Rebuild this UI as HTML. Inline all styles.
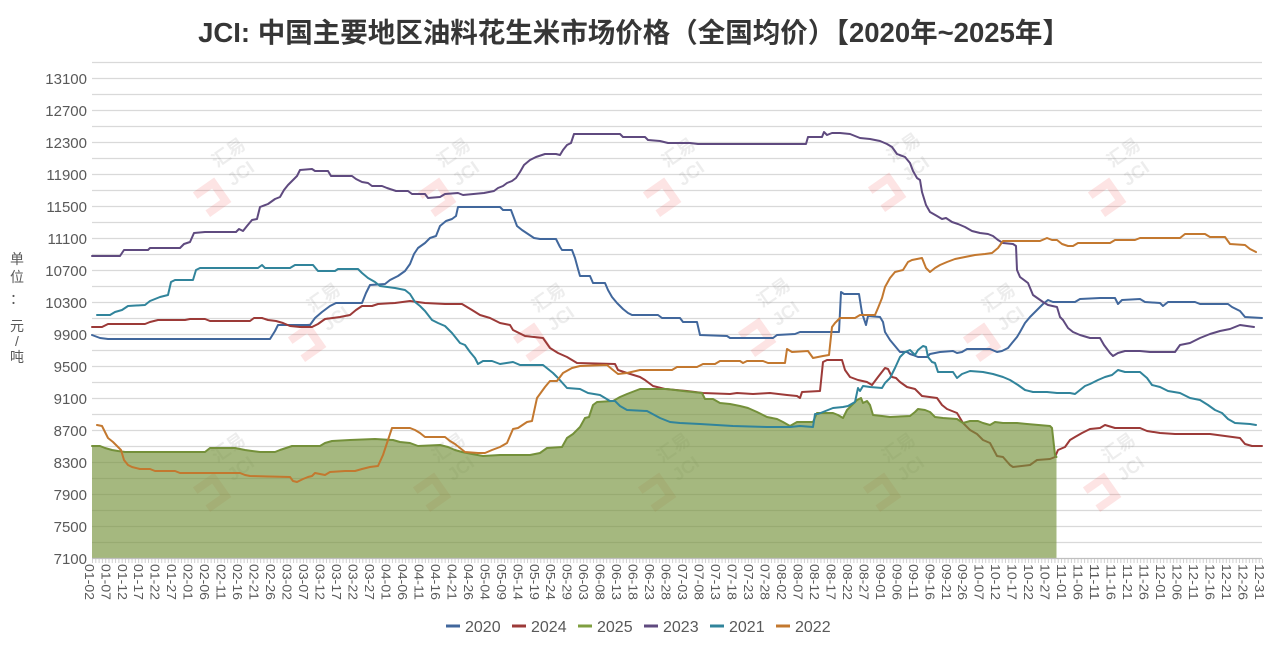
<!DOCTYPE html>
<html><head><meta charset="utf-8"><style>
html,body{margin:0;padding:0;background:#fff;}
svg{display:block;}
</style></head><body>
<svg width="1276" height="651" viewBox="0 0 1276 651" xmlns="http://www.w3.org/2000/svg">
<rect width="1276" height="651" fill="#fff"/>
<text x="634" y="42" text-anchor="middle" font-family="'Liberation Sans','Noto Sans CJK SC',sans-serif" font-size="27.5" font-weight="bold" fill="#363636">JCI: 中国主要地区油料花生米市场价格（全国均价）【2020年~2025年】</text>
<g stroke="#d9d9d9" stroke-width="1.2">
<line x1="92" y1="62.5" x2="1262" y2="62.5"/><line x1="92" y1="78.5" x2="1262" y2="78.5"/><line x1="92" y1="94.5" x2="1262" y2="94.5"/><line x1="92" y1="110.5" x2="1262" y2="110.5"/><line x1="92" y1="126.5" x2="1262" y2="126.5"/><line x1="92" y1="142.5" x2="1262" y2="142.5"/><line x1="92" y1="158.5" x2="1262" y2="158.5"/><line x1="92" y1="174.5" x2="1262" y2="174.5"/><line x1="92" y1="190.5" x2="1262" y2="190.5"/><line x1="92" y1="206.5" x2="1262" y2="206.5"/><line x1="92" y1="222.5" x2="1262" y2="222.5"/><line x1="92" y1="238.5" x2="1262" y2="238.5"/><line x1="92" y1="254.5" x2="1262" y2="254.5"/><line x1="92" y1="270.5" x2="1262" y2="270.5"/><line x1="92" y1="286.5" x2="1262" y2="286.5"/><line x1="92" y1="302.5" x2="1262" y2="302.5"/><line x1="92" y1="318.5" x2="1262" y2="318.5"/><line x1="92" y1="334.5" x2="1262" y2="334.5"/><line x1="92" y1="350.5" x2="1262" y2="350.5"/><line x1="92" y1="366.5" x2="1262" y2="366.5"/><line x1="92" y1="382.5" x2="1262" y2="382.5"/><line x1="92" y1="398.5" x2="1262" y2="398.5"/><line x1="92" y1="414.5" x2="1262" y2="414.5"/><line x1="92" y1="430.5" x2="1262" y2="430.5"/><line x1="92" y1="446.5" x2="1262" y2="446.5"/><line x1="92" y1="462.5" x2="1262" y2="462.5"/><line x1="92" y1="478.5" x2="1262" y2="478.5"/><line x1="92" y1="494.5" x2="1262" y2="494.5"/><line x1="92" y1="510.5" x2="1262" y2="510.5"/><line x1="92" y1="526.5" x2="1262" y2="526.5"/><line x1="92" y1="542.5" x2="1262" y2="542.5"/>
</g>
<!-- watermarks -->
<g opacity="0.13" font-family="'Liberation Sans','Noto Sans CJK SC',sans-serif" font-weight="bold">
<g transform="translate(225,165) rotate(-35)"><path d="M-42 8 h22 v22 h-22" fill="none" stroke="#e33" stroke-width="8"/><text x="-8" y="-2" font-size="18" fill="#777">汇易</text><text x="-6" y="22" font-size="18" fill="#777">JCI</text></g>
<g transform="translate(450,165) rotate(-35)"><path d="M-42 8 h22 v22 h-22" fill="none" stroke="#e33" stroke-width="8"/><text x="-8" y="-2" font-size="18" fill="#777">汇易</text><text x="-6" y="22" font-size="18" fill="#777">JCI</text></g>
<g transform="translate(675,165) rotate(-35)"><path d="M-42 8 h22 v22 h-22" fill="none" stroke="#e33" stroke-width="8"/><text x="-8" y="-2" font-size="18" fill="#777">汇易</text><text x="-6" y="22" font-size="18" fill="#777">JCI</text></g>
<g transform="translate(900,160) rotate(-35)"><path d="M-42 8 h22 v22 h-22" fill="none" stroke="#e33" stroke-width="8"/><text x="-8" y="-2" font-size="18" fill="#777">汇易</text><text x="-6" y="22" font-size="18" fill="#777">JCI</text></g>
<g transform="translate(1120,165) rotate(-35)"><path d="M-42 8 h22 v22 h-22" fill="none" stroke="#e33" stroke-width="8"/><text x="-8" y="-2" font-size="18" fill="#777">汇易</text><text x="-6" y="22" font-size="18" fill="#777">JCI</text></g>
<g transform="translate(320,310) rotate(-35)"><path d="M-42 8 h22 v22 h-22" fill="none" stroke="#e33" stroke-width="8"/><text x="-8" y="-2" font-size="18" fill="#777">汇易</text><text x="-6" y="22" font-size="18" fill="#777">JCI</text></g>
<g transform="translate(545,310) rotate(-35)"><path d="M-42 8 h22 v22 h-22" fill="none" stroke="#e33" stroke-width="8"/><text x="-8" y="-2" font-size="18" fill="#777">汇易</text><text x="-6" y="22" font-size="18" fill="#777">JCI</text></g>
<g transform="translate(770,305) rotate(-35)"><path d="M-42 8 h22 v22 h-22" fill="none" stroke="#e33" stroke-width="8"/><text x="-8" y="-2" font-size="18" fill="#777">汇易</text><text x="-6" y="22" font-size="18" fill="#777">JCI</text></g>
<g transform="translate(995,310) rotate(-35)"><path d="M-42 8 h22 v22 h-22" fill="none" stroke="#e33" stroke-width="8"/><text x="-8" y="-2" font-size="18" fill="#777">汇易</text><text x="-6" y="22" font-size="18" fill="#777">JCI</text></g>
<g transform="translate(225,460) rotate(-35)"><path d="M-42 8 h22 v22 h-22" fill="none" stroke="#e33" stroke-width="8"/><text x="-8" y="-2" font-size="18" fill="#777">汇易</text><text x="-6" y="22" font-size="18" fill="#777">JCI</text></g>
<g transform="translate(445,460) rotate(-35)"><path d="M-42 8 h22 v22 h-22" fill="none" stroke="#e33" stroke-width="8"/><text x="-8" y="-2" font-size="18" fill="#777">汇易</text><text x="-6" y="22" font-size="18" fill="#777">JCI</text></g>
<g transform="translate(670,460) rotate(-35)"><path d="M-42 8 h22 v22 h-22" fill="none" stroke="#e33" stroke-width="8"/><text x="-8" y="-2" font-size="18" fill="#777">汇易</text><text x="-6" y="22" font-size="18" fill="#777">JCI</text></g>
<g transform="translate(895,460) rotate(-35)"><path d="M-42 8 h22 v22 h-22" fill="none" stroke="#e33" stroke-width="8"/><text x="-8" y="-2" font-size="18" fill="#777">汇易</text><text x="-6" y="22" font-size="18" fill="#777">JCI</text></g>
<g transform="translate(1115,460) rotate(-35)"><path d="M-42 8 h22 v22 h-22" fill="none" stroke="#e33" stroke-width="8"/><text x="-8" y="-2" font-size="18" fill="#777">汇易</text><text x="-6" y="22" font-size="18" fill="#777">JCI</text></g>
</g>
<!-- y labels -->
<g font-family="'Liberation Sans',sans-serif" font-size="15" fill="#595959" text-anchor="end">
<text x="87" y="84">13100</text><text x="87" y="116">12700</text><text x="87" y="148">12300</text><text x="87" y="180">11900</text><text x="87" y="212">11500</text><text x="87" y="244">11100</text><text x="87" y="276">10700</text><text x="87" y="308">10300</text><text x="87" y="340">9900</text><text x="87" y="372">9500</text><text x="87" y="404">9100</text><text x="87" y="436">8700</text><text x="87" y="468">8300</text><text x="87" y="500">7900</text><text x="87" y="532">7500</text><text x="87" y="564">7100</text>
</g>
<g font-family="'Liberation Sans','Noto Sans CJK SC',sans-serif" font-size="14" fill="#595959" text-anchor="middle">
<text x="17" y="264">单</text><text x="17" y="282">位</text><text x="17" y="304">：</text><text x="17" y="331">元</text><text x="17" y="346">/</text><text x="17" y="362">吨</text>
</g>
<g fill="none" stroke-width="2" stroke-linejoin="round" stroke-linecap="round">
<polyline stroke="#41679c" points="92,335 100,338 108,339 270,339 275,331 278,325 310,325 315,318 322,312 330,306 336,303 362,303 366,293 370,285 385,284 390,280 398,276 405,271 410,264 414,254 418,248 425,243 430,238 436,236 440,226 446,221 452,219 456,216 458,207 500,207 503,210 511,210 514,218 517,226 522,230 528,234 534,238 540,239 556,239 560,247 562,250 572,250 575,258 578,269 580,276 590,276 593,283 605,283 608,290 612,297 617,303 623,309 628,313 632,315 658,315 662,318 680,318 683,322 697,322 700,335 727,336 730,338 773,338 777,335 795,334 800,332 839,332 841,292 844,294 859,294 862,313 866,325 868,316 880,317 883,322 885,332 890,340 895,346 900,352 907,352 910,354 913,355 918,357 927,357 930,354 940,352 953,351 957,353 962,352 967,349 990,349 997,352 1002,351 1008,348 1012,343 1017,337 1020,332 1025,323 1030,317 1035,312 1043,304 1048,300 1053,302 1075,302 1080,299 1100,298 1115,298 1118,304 1122,300 1140,299 1145,302 1160,303 1163,306 1168,302 1195,302 1200,304 1228,304 1232,307 1240,311 1245,317 1262,318"/>
<polyline stroke="#9c3a38" points="92,327 102,327 108,324 145,324 150,322 158,320 185,320 190,319 205,319 210,321 250,321 254,318 262,318 268,320 276,321 283,323 290,326 300,327 312,327 318,324 325,319 340,317 350,315 356,310 362,306 372,306 378,304 395,303 410,301 425,303 445,304 462,304 467,307 472,310 480,315 490,318 500,323 510,325 513,330 525,336 543,338 550,348 558,353 567,357 577,363 615,364 618,370 627,373 640,377 645,380 653,386 665,389 687,391 703,393 730,394 737,393 753,394 770,393 787,395 797,396 800,398 802,392 820,391 823,362 827,360 842,360 845,370 850,377 858,380 867,382 872,385 878,377 885,368 888,369 892,377 896,378 900,382 907,387 915,389 922,396 937,398 942,405 947,409 957,413 963,423 970,430 977,434 983,440 990,443 997,456 1003,457 1010,465 1013,467 1030,465 1037,460 1050,459 1055,457 1058,450 1065,447 1070,440 1075,437 1082,433 1090,429 1100,428 1105,425 1115,428 1140,428 1147,431 1160,433 1175,434 1210,434 1225,436 1240,438 1245,444 1252,446 1262,446"/>
</g>
<path fill="#77933c" fill-opacity="0.66" stroke="none" d="M92,558.5 L92,446 100,446 105,448 112,450 118,451 125,452 205,452 210,448 235,448 240,449 245,450 252,451 260,452 275,452 280,450 286,448 292,446 320,446 325,443 332,441 350,440 375,439 393,440 400,442 410,443 418,446 440,445 448,447 455,450 462,452 472,454 483,456 500,455 530,455 540,453 547,448 562,447 567,438 573,434 580,427 585,418 589,417 593,405 597,402 613,401 620,397 627,394 640,389 667,389 683,391 702,393 705,399 713,399 720,403 730,404 740,406 748,408 757,412 767,417 777,419 783,422 790,426 797,422 813,422 817,413 833,413 838,415 843,418 847,410 852,405 857,400 861,398 863,403 867,401 870,405 873,415 882,416 890,417 910,416 915,412 918,409 925,410 930,412 935,417 943,418 957,419 963,423 970,421 978,421 983,423 990,425 995,422 1003,423 1017,423 1027,424 1050,426 1052,428 1055,455 1056.5,457 L1056.5,558.5 Z"/>
<g fill="none" stroke-width="2" stroke-linejoin="round" stroke-linecap="round">
<polyline stroke="#74903a" points="92,446 100,446 105,448 112,450 118,451 125,452 205,452 210,448 235,448 240,449 245,450 252,451 260,452 275,452 280,450 286,448 292,446 320,446 325,443 332,441 350,440 375,439 393,440 400,442 410,443 418,446 440,445 448,447 455,450 462,452 472,454 483,456 500,455 530,455 540,453 547,448 562,447 567,438 573,434 580,427 585,418 589,417 593,405 597,402 613,401 620,397 627,394 640,389 667,389 683,391 702,393 705,399 713,399 720,403 730,404 740,406 748,408 757,412 767,417 777,419 783,422 790,426 797,422 813,422 817,413 833,413 838,415 843,418 847,410 852,405 857,400 861,398 863,403 867,401 870,405 873,415 882,416 890,417 910,416 915,412 918,409 925,410 930,412 935,417 943,418 957,419 963,423 970,421 978,421 983,423 990,425 995,422 1003,423 1017,423 1027,424 1050,426 1052,428 1055,455 1056.5,457"/>
<polyline stroke="#5f4a7f" points="92,256 120,256 124,250 148,250 150,248 180,248 184,244 190,242 194,233 205,232 236,232 239,229 243,231 247,226 252,220 257,219 260,207 268,204 275,199 280,197 284,190 288,185 292,181 297,176 300,170 312,169 315,171 328,171 331,176 352,176 356,179 362,182 368,183 372,186 382,186 387,188 396,191 408,191 412,194 425,194 428,198 440,197 445,194 458,193 463,195 484,193 494,191 498,188 503,186 507,183 512,181 516,178 520,172 524,165 530,160 536,157 545,154 556,154 560,155 563,150 567,145 571,143 574,134 620,134 623,137 645,137 648,140 660,141 668,143 690,143 698,144 806,144 808,137 822,137 824,132 827,135 832,133 840,133 850,134 855,136 860,138 870,139 880,141 887,144 892,147 897,154 905,157 910,163 913,171 917,178 920,180 922,192 926,205 930,212 937,216 942,219 946,218 952,222 958,224 965,227 972,231 980,233 988,234 993,236 998,240 1003,243 1013,244 1016,246 1017,270 1020,277 1028,283 1033,295 1043,302 1048,305 1057,307 1060,317 1063,320 1068,328 1073,332 1080,335 1090,338 1100,338 1104,345 1110,353 1113,356 1118,353 1125,351 1140,351 1150,352 1175,352 1180,345 1190,343 1200,338 1210,334 1220,331 1230,329 1240,325 1247,326 1254,327"/>
<polyline stroke="#31849b" points="97,315 110,315 115,312 122,310 128,306 145,305 150,301 160,297 168,295 171,282 175,280 193,280 196,270 200,268 258,268 262,265 265,268 290,268 295,265 313,265 318,271 335,271 338,269 358,269 362,273 368,278 375,282 380,286 395,288 405,290 410,294 415,302 420,306 425,311 432,320 438,323 445,326 452,333 456,338 460,343 465,345 470,352 475,358 478,364 483,361 492,361 500,364 513,362 520,365 543,365 553,373 558,378 567,388 580,389 588,393 600,395 605,398 610,401 615,401 620,406 627,410 647,411 660,418 670,422 680,423 700,424 733,426 767,427 790,427 800,426 813,427 815,414 818,414 833,408 843,407 848,406 855,402 858,388 860,391 863,386 870,387 882,388 885,383 890,378 895,368 900,357 905,352 910,350 915,355 918,350 923,346 926,347 928,357 932,362 935,363 938,372 953,372 957,378 962,374 970,371 983,372 993,374 1003,377 1010,380 1018,385 1025,390 1033,392 1047,392 1057,393 1070,393 1075,394 1080,390 1085,386 1090,384 1098,380 1105,377 1112,375 1118,370 1125,372 1140,372 1147,378 1152,385 1160,387 1168,391 1180,393 1190,398 1200,400 1208,405 1215,410 1222,413 1228,419 1235,423 1250,424 1256,425"/>
<polyline stroke="#c3782f" points="97,425 102,426 105,432 108,438 113,442 118,447 121,450 124,460 128,465 132,467 140,469 150,469 155,471 175,471 180,473 240,473 245,475 250,476 290,477 293,481 297,482 303,479 308,477 312,476 315,473 320,474 325,475 330,472 345,471 355,471 362,469 370,467 378,466 383,455 388,440 392,428 410,428 415,430 420,433 425,437 445,437 450,441 455,444 460,448 465,452 478,453 485,453 492,450 500,447 507,443 513,429 518,428 527,422 532,421 537,398 545,387 550,381 557,381 563,373 572,368 580,366 607,365 613,370 618,374 627,373 640,370 672,370 677,367 697,367 703,364 715,364 720,361 740,361 743,363 747,361 763,361 768,363 785,363 787,349 792,352 808,351 813,358 823,356 829,355 832,327 835,323 840,318 855,318 860,315 875,315 878,308 882,298 885,287 890,278 895,272 903,270 908,262 912,260 922,258 926,268 930,272 935,268 940,265 947,262 955,259 965,257 975,255 985,254 992,253 998,248 1003,241 1010,241 1040,241 1047,238 1052,240 1057,240 1062,244 1068,246 1073,246 1078,243 1110,243 1115,240 1135,240 1140,238 1180,238 1185,234 1205,234 1210,237 1225,237 1230,244 1245,245 1250,249 1256,252"/>
</g>
<!-- x axis -->
<line x1="92" y1="558.5" x2="1262" y2="558.5" stroke="#bfbfbf" stroke-width="1.2"/>
<line x1="92" y1="561" x2="1263" y2="561" stroke="#d0d0d0" stroke-width="4" stroke-dasharray="1 2.296"/>
<g font-family="'Liberation Sans',sans-serif" font-size="13" fill="#595959">
<text transform="translate(84.8,564) rotate(90)" textLength="36" lengthAdjust="spacingAndGlyphs">01-02</text>
<text transform="translate(101.3,564) rotate(90)" textLength="36" lengthAdjust="spacingAndGlyphs">01-07</text>
<text transform="translate(117.8,564) rotate(90)" textLength="36" lengthAdjust="spacingAndGlyphs">01-12</text>
<text transform="translate(134.2,564) rotate(90)" textLength="36" lengthAdjust="spacingAndGlyphs">01-17</text>
<text transform="translate(150.7,564) rotate(90)" textLength="36" lengthAdjust="spacingAndGlyphs">01-22</text>
<text transform="translate(167.2,564) rotate(90)" textLength="36" lengthAdjust="spacingAndGlyphs">01-27</text>
<text transform="translate(183.7,564) rotate(90)" textLength="36" lengthAdjust="spacingAndGlyphs">02-01</text>
<text transform="translate(200.2,564) rotate(90)" textLength="36" lengthAdjust="spacingAndGlyphs">02-06</text>
<text transform="translate(216.6,564) rotate(90)" textLength="36" lengthAdjust="spacingAndGlyphs">02-11</text>
<text transform="translate(233.1,564) rotate(90)" textLength="36" lengthAdjust="spacingAndGlyphs">02-16</text>
<text transform="translate(249.6,564) rotate(90)" textLength="36" lengthAdjust="spacingAndGlyphs">02-21</text>
<text transform="translate(266.1,564) rotate(90)" textLength="36" lengthAdjust="spacingAndGlyphs">02-26</text>
<text transform="translate(282.6,564) rotate(90)" textLength="36" lengthAdjust="spacingAndGlyphs">03-02</text>
<text transform="translate(299.0,564) rotate(90)" textLength="36" lengthAdjust="spacingAndGlyphs">03-07</text>
<text transform="translate(315.5,564) rotate(90)" textLength="36" lengthAdjust="spacingAndGlyphs">03-12</text>
<text transform="translate(332.0,564) rotate(90)" textLength="36" lengthAdjust="spacingAndGlyphs">03-17</text>
<text transform="translate(348.5,564) rotate(90)" textLength="36" lengthAdjust="spacingAndGlyphs">03-22</text>
<text transform="translate(365.0,564) rotate(90)" textLength="36" lengthAdjust="spacingAndGlyphs">03-27</text>
<text transform="translate(381.4,564) rotate(90)" textLength="36" lengthAdjust="spacingAndGlyphs">04-01</text>
<text transform="translate(397.9,564) rotate(90)" textLength="36" lengthAdjust="spacingAndGlyphs">04-06</text>
<text transform="translate(414.4,564) rotate(90)" textLength="36" lengthAdjust="spacingAndGlyphs">04-11</text>
<text transform="translate(430.9,564) rotate(90)" textLength="36" lengthAdjust="spacingAndGlyphs">04-16</text>
<text transform="translate(447.4,564) rotate(90)" textLength="36" lengthAdjust="spacingAndGlyphs">04-21</text>
<text transform="translate(463.8,564) rotate(90)" textLength="36" lengthAdjust="spacingAndGlyphs">04-26</text>
<text transform="translate(480.3,564) rotate(90)" textLength="36" lengthAdjust="spacingAndGlyphs">05-04</text>
<text transform="translate(496.8,564) rotate(90)" textLength="36" lengthAdjust="spacingAndGlyphs">05-09</text>
<text transform="translate(513.3,564) rotate(90)" textLength="36" lengthAdjust="spacingAndGlyphs">05-14</text>
<text transform="translate(529.8,564) rotate(90)" textLength="36" lengthAdjust="spacingAndGlyphs">05-19</text>
<text transform="translate(546.2,564) rotate(90)" textLength="36" lengthAdjust="spacingAndGlyphs">05-24</text>
<text transform="translate(562.7,564) rotate(90)" textLength="36" lengthAdjust="spacingAndGlyphs">05-29</text>
<text transform="translate(579.2,564) rotate(90)" textLength="36" lengthAdjust="spacingAndGlyphs">06-03</text>
<text transform="translate(595.7,564) rotate(90)" textLength="36" lengthAdjust="spacingAndGlyphs">06-08</text>
<text transform="translate(612.2,564) rotate(90)" textLength="36" lengthAdjust="spacingAndGlyphs">06-13</text>
<text transform="translate(628.6,564) rotate(90)" textLength="36" lengthAdjust="spacingAndGlyphs">06-18</text>
<text transform="translate(645.1,564) rotate(90)" textLength="36" lengthAdjust="spacingAndGlyphs">06-23</text>
<text transform="translate(661.6,564) rotate(90)" textLength="36" lengthAdjust="spacingAndGlyphs">06-28</text>
<text transform="translate(678.1,564) rotate(90)" textLength="36" lengthAdjust="spacingAndGlyphs">07-03</text>
<text transform="translate(694.6,564) rotate(90)" textLength="36" lengthAdjust="spacingAndGlyphs">07-08</text>
<text transform="translate(711.0,564) rotate(90)" textLength="36" lengthAdjust="spacingAndGlyphs">07-13</text>
<text transform="translate(727.5,564) rotate(90)" textLength="36" lengthAdjust="spacingAndGlyphs">07-18</text>
<text transform="translate(744.0,564) rotate(90)" textLength="36" lengthAdjust="spacingAndGlyphs">07-23</text>
<text transform="translate(760.5,564) rotate(90)" textLength="36" lengthAdjust="spacingAndGlyphs">07-28</text>
<text transform="translate(777.0,564) rotate(90)" textLength="36" lengthAdjust="spacingAndGlyphs">08-02</text>
<text transform="translate(793.4,564) rotate(90)" textLength="36" lengthAdjust="spacingAndGlyphs">08-07</text>
<text transform="translate(809.9,564) rotate(90)" textLength="36" lengthAdjust="spacingAndGlyphs">08-12</text>
<text transform="translate(826.4,564) rotate(90)" textLength="36" lengthAdjust="spacingAndGlyphs">08-17</text>
<text transform="translate(842.9,564) rotate(90)" textLength="36" lengthAdjust="spacingAndGlyphs">08-22</text>
<text transform="translate(859.4,564) rotate(90)" textLength="36" lengthAdjust="spacingAndGlyphs">08-27</text>
<text transform="translate(875.8,564) rotate(90)" textLength="36" lengthAdjust="spacingAndGlyphs">09-01</text>
<text transform="translate(892.3,564) rotate(90)" textLength="36" lengthAdjust="spacingAndGlyphs">09-06</text>
<text transform="translate(908.8,564) rotate(90)" textLength="36" lengthAdjust="spacingAndGlyphs">09-11</text>
<text transform="translate(925.3,564) rotate(90)" textLength="36" lengthAdjust="spacingAndGlyphs">09-16</text>
<text transform="translate(941.8,564) rotate(90)" textLength="36" lengthAdjust="spacingAndGlyphs">09-21</text>
<text transform="translate(958.2,564) rotate(90)" textLength="36" lengthAdjust="spacingAndGlyphs">09-26</text>
<text transform="translate(974.7,564) rotate(90)" textLength="36" lengthAdjust="spacingAndGlyphs">10-07</text>
<text transform="translate(991.2,564) rotate(90)" textLength="36" lengthAdjust="spacingAndGlyphs">10-12</text>
<text transform="translate(1007.7,564) rotate(90)" textLength="36" lengthAdjust="spacingAndGlyphs">10-17</text>
<text transform="translate(1024.2,564) rotate(90)" textLength="36" lengthAdjust="spacingAndGlyphs">10-22</text>
<text transform="translate(1040.6,564) rotate(90)" textLength="36" lengthAdjust="spacingAndGlyphs">10-27</text>
<text transform="translate(1057.1,564) rotate(90)" textLength="36" lengthAdjust="spacingAndGlyphs">11-01</text>
<text transform="translate(1073.6,564) rotate(90)" textLength="36" lengthAdjust="spacingAndGlyphs">11-06</text>
<text transform="translate(1090.1,564) rotate(90)" textLength="36" lengthAdjust="spacingAndGlyphs">11-11</text>
<text transform="translate(1106.6,564) rotate(90)" textLength="36" lengthAdjust="spacingAndGlyphs">11-16</text>
<text transform="translate(1123.0,564) rotate(90)" textLength="36" lengthAdjust="spacingAndGlyphs">11-21</text>
<text transform="translate(1139.5,564) rotate(90)" textLength="36" lengthAdjust="spacingAndGlyphs">11-26</text>
<text transform="translate(1156.0,564) rotate(90)" textLength="36" lengthAdjust="spacingAndGlyphs">12-01</text>
<text transform="translate(1172.5,564) rotate(90)" textLength="36" lengthAdjust="spacingAndGlyphs">12-06</text>
<text transform="translate(1189.0,564) rotate(90)" textLength="36" lengthAdjust="spacingAndGlyphs">12-11</text>
<text transform="translate(1205.4,564) rotate(90)" textLength="36" lengthAdjust="spacingAndGlyphs">12-16</text>
<text transform="translate(1221.9,564) rotate(90)" textLength="36" lengthAdjust="spacingAndGlyphs">12-21</text>
<text transform="translate(1238.4,564) rotate(90)" textLength="36" lengthAdjust="spacingAndGlyphs">12-26</text>
<text transform="translate(1254.9,564) rotate(90)" textLength="36" lengthAdjust="spacingAndGlyphs">12-31</text>
</g>
<!-- legend -->
<g stroke-width="3">
<line x1="446" y1="626" x2="460" y2="626" stroke="#41679c"/>
<line x1="512" y1="626" x2="526" y2="626" stroke="#9c3a38"/>
<line x1="578" y1="626" x2="592" y2="626" stroke="#7f9f40"/>
<line x1="644" y1="626" x2="658" y2="626" stroke="#5f4a7f"/>
<line x1="710" y1="626" x2="724" y2="626" stroke="#31849b"/>
<line x1="776" y1="626" x2="790" y2="626" stroke="#c3782f"/>
</g>
<g font-family="'Liberation Sans',sans-serif" font-size="16" fill="#595959">
<text x="465" y="632">2020</text><text x="531" y="632">2024</text><text x="597" y="632">2025</text><text x="663" y="632">2023</text><text x="729" y="632">2021</text><text x="795" y="632">2022</text>
</g>
</svg>
</body></html>
